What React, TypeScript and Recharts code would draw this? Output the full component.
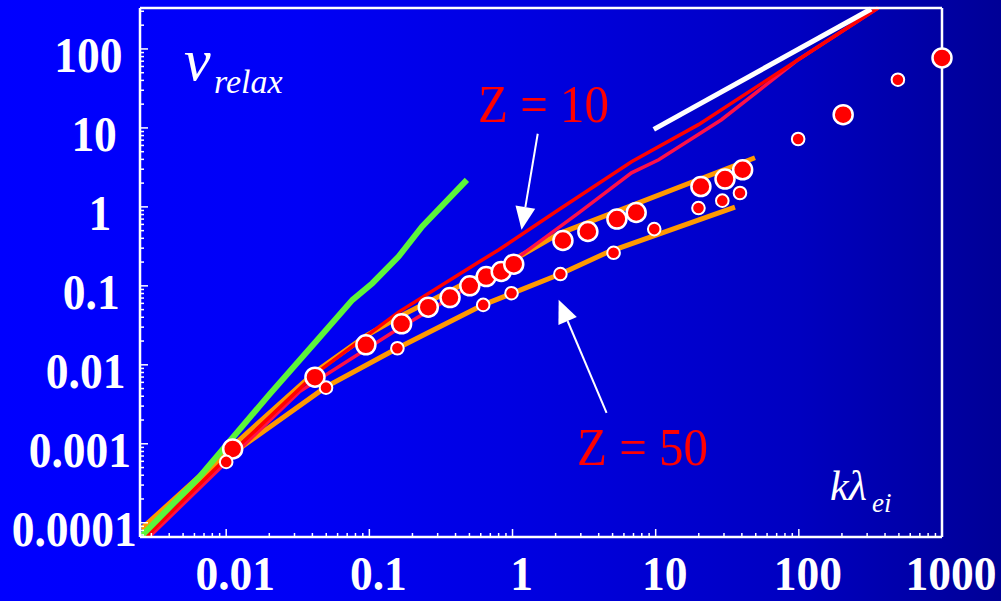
import React from "react";
import { ComposedChart, Line, Scatter, XAxis, YAxis, ReferenceLine } from "recharts";

const SERIF = '"Liberation Serif", "Times New Roman", serif';

// axes
const X_DOMAIN = [0.0025, 1000];
const Y_DOMAIN = [0.000066, 330];
const xMajor = [0.01, 0.1, 1, 10, 100, 1000];
const xLabels = ["0.01", "0.1", "1", "10", "100", "1000"];
const yMajor = [0.0001, 0.001, 0.01, 0.1, 1, 10, 100];
const yLabels = ["0.0001", "0.001", "0.01", "0.1", "1", "10", "100"];
const minorMult = [2, 3, 4, 5, 6, 7, 8, 9];
const xDecades = [0.001, 0.01, 0.1, 1, 10, 100];
const yDecades = [0.00001, 0.0001, 0.001, 0.01, 0.1, 1, 10, 100];

// curves (k*lambda_ei, nu_relax)
const greenCurve = [
  [0.0026, 0.00007], [0.0065, 0.00038], [0.02, 0.0042], [0.0424, 0.0197],
  [0.0762, 0.0665], [0.105, 0.108], [0.16, 0.235], [0.234, 0.565], [0.48, 2.2],
];
const redCurve = [
  [0.00277, 0.000067], [0.0111, 0.00079], [0.0419, 0.00767], [0.161, 0.0468],
  [0.582, 0.201], [0.803, 0.286], [2.1, 0.918], [6.78, 3.73], [19.9, 11],
  [98.9, 73], [357, 330],
];
const crimsonCurve = [
  [0.00292, 0.000067], [0.0111, 0.0007], [0.0324, 0.00454], [0.144, 0.0254],
  [1.107, 0.233], [2.9, 0.841], [6.78, 2.7], [10.5, 3.95], [28.8, 12.7],
  [98.9, 73], [357, 330],
];
const orangeUpper = [
  [0.0026, 0.000086], [0.0111, 0.000937], [0.0419, 0.00813], [0.0946, 0.0232],
  [0.166, 0.0417], [0.503, 0.116], [1.02, 0.214], [2.1, 0.456], [49.4, 4.19],
];
const orangeLower = [
  [0.0026, 0.000081], [0.01, 0.00066], [0.0498, 0.00525], [0.157, 0.0162],
  [0.624, 0.0574], [2.16, 0.141], [4.69, 0.27], [35.8, 0.993],
];
const whiteLine = [[9.7, 9.6], [320, 320]];

// simulation points
const bigDots = [
  [0.0111, 0.00086], [0.0417, 0.00697], [0.0946, 0.0179], [0.168, 0.033],
  [0.258, 0.0537], [0.366, 0.0711], [0.503, 0.1], [0.655, 0.131], [0.834, 0.152],
  [1.02, 0.188], [2.25, 0.375], [3.36, 0.488], [5.36, 0.7], [7.31, 0.849],
  [20.7, 1.81], [30.5, 2.25], [40.5, 2.95], [204, 14.7], [1000, 77],
];
const smallDots = [
  [0.01, 0.00059], [0.0498, 0.00514], [0.157, 0.0162], [0.624, 0.0574],
  [0.984, 0.0807], [2.16, 0.141], [5.08, 0.262], [9.77, 0.523], [19.9, 0.966],
  [29.2, 1.2], [38.8, 1.5], [98.9, 7.23], [492, 40.8],
];

// annotation arrows: [tail, tip]
const arrowZ10 = [[1.5, 8.44], [1.156, 0.513]];
const arrowZ50 = [[4.54, 0.00246], [2.1, 0.0665]];

const toPts = (rows: number[][]) => rows.map(([x, y]) => ({ x, y }));

const minorTicks = (decades: number[], lo: number, hi: number) =>
  decades
    .flatMap((d) => minorMult.map((m) => Number((d * m).toPrecision(2))))
    .filter((v) => v > lo && v < hi);

const xAllTicks = [...xMajor, ...minorTicks(xDecades, X_DOMAIN[0], X_DOMAIN[1])];
const yAllTicks = [...yMajor, ...minorTicks(yDecades, Y_DOMAIN[0], Y_DOMAIN[1])];

const TICK_FS = 45.5;
const MAJOR_LEN = 8;
const MINOR_LEN = 4;
const textWidth = (s: string) => {
  let w = 0;
  for (const c of s) w += c === "." ? 0.25 : 0.5;
  return w * TICK_FS;
};

const BottomTick = (props: any) => {
  const { x, y, payload } = props;
  const i = xMajor.indexOf(payload.value);
  const len = i >= 0 ? MAJOR_LEN : MINOR_LEN;
  return (
    <g>
      <line x1={x} y1={y} x2={x} y2={y - len} stroke="#fff" strokeWidth={1.5} />
      {i >= 0 && (
        <text
          transform={`translate(${x + 9},${y + 53}) scale(1,1.08)`}
          textAnchor="middle"
          fill="#fff"
          fontSize={TICK_FS}
          fontWeight="bold"
          fontFamily={SERIF}
        >
          {xLabels[i]}
        </text>
      )}
    </g>
  );
};

const TopTick = (props: any) => {
  const { x, y, payload } = props;
  const len = xMajor.includes(payload.value) ? MAJOR_LEN : MINOR_LEN;
  return <line x1={x} y1={y} x2={x} y2={y + len} stroke="#fff" strokeWidth={1.5} />;
};

const LeftTick = (props: any) => {
  const { x, y, payload } = props;
  const i = yMajor.indexOf(payload.value);
  const len = i >= 0 ? MAJOR_LEN : MINOR_LEN;
  const s = i >= 0 ? yLabels[i] : "";
  const left = x - 34.5 - 0.75 * textWidth(s);
  return (
    <g>
      <line x1={x} y1={y} x2={x + len} y2={y} stroke="#fff" strokeWidth={1.5} />
      {i >= 0 && (
        <text
          transform={`translate(${left},${y + 23}) scale(1,1.1)`}
          fill="#fff"
          fontSize={TICK_FS}
          fontWeight="bold"
          fontFamily={SERIF}
        >
          {s}
        </text>
      )}
    </g>
  );
};

const RightTick = (props: any) => {
  const { x, y, payload } = props;
  const len = yMajor.includes(payload.value) ? MAJOR_LEN : MINOR_LEN;
  return <line x1={x} y1={y} x2={x - len} y2={y} stroke="#fff" strokeWidth={1.5} />;
};

const Arrow = (props: any) => {
  const { x1, y1, x2, y2 } = props;
  const dx = x2 - x1;
  const dy = y2 - y1;
  const len = Math.sqrt(dx * dx + dy * dy) || 1;
  const ux = dx / len;
  const uy = dy / len;
  const hl = 23;
  const hw = 10;
  const bx = x2 - ux * hl;
  const by = y2 - uy * hl;
  return (
    <g>
      <line x1={x1} y1={y1} x2={bx} y2={by} stroke="#fff" strokeWidth={2} />
      <polygon
        points={`${x2},${y2} ${bx - uy * hw},${by + ux * hw} ${bx + uy * hw},${by - ux * hw}`}
        fill="#fff"
      />
    </g>
  );
};

const BigDot = (p: any) => (
  <circle cx={p.cx} cy={p.cy} r={9.5} fill="#ff0000" stroke="#ffffff" strokeWidth={2.5} />
);
const SmallDot = (p: any) => (
  <circle cx={p.cx} cy={p.cy} r={6.3} fill="#ff0000" stroke="#ffffff" strokeWidth={2} />
);

const frameLine = { stroke: "#fff", strokeWidth: 2.5 };

export default function App() {
  return (
    <div
      style={{
        position: "absolute",
        left: 0,
        top: 0,
        width: 1001,
        height: 601,
        overflow: "hidden",
        background:
          "linear-gradient(90deg, #0000ff 0%, #0000f6 30%, #0000de 55%, #0000c0 80%, #000096 100%)",
      }}
    >
      <ComposedChart width={1001} height={601} margin={{ top: 0, right: 0, left: 0, bottom: 0 }}>
        <XAxis
          dataKey="x"
          type="number"
          scale="log"
          domain={X_DOMAIN}
          ticks={xAllTicks}
          interval={0}
          height={64}
          tickSize={0}
          tickMargin={0}
          tickLine={false}
          axisLine={frameLine}
          tick={BottomTick}
        />
        <XAxis
          xAxisId="top"
          orientation="top"
          type="number"
          scale="log"
          domain={X_DOMAIN}
          ticks={xAllTicks}
          interval={0}
          height={8}
          tickSize={0}
          tickMargin={0}
          tickLine={false}
          axisLine={frameLine}
          tick={TopTick}
        />
        <YAxis
          dataKey="y"
          type="number"
          scale="log"
          domain={Y_DOMAIN}
          ticks={yAllTicks}
          interval={0}
          width={140}
          tickSize={0}
          tickMargin={0}
          tickLine={false}
          axisLine={frameLine}
          tick={LeftTick}
        />
        <YAxis
          yAxisId="right"
          orientation="right"
          type="number"
          scale="log"
          domain={Y_DOMAIN}
          ticks={yAllTicks}
          interval={0}
          width={59}
          tickSize={0}
          tickMargin={0}
          tickLine={false}
          axisLine={frameLine}
          tick={RightTick}
        />

        <Line data={toPts(orangeLower)} dataKey="y" type="linear" stroke="#ff9900" strokeWidth={5} dot={false} activeDot={false} isAnimationActive={false} />
        <Line data={toPts(orangeUpper)} dataKey="y" type="linear" stroke="#ff9900" strokeWidth={5} dot={false} activeDot={false} isAnimationActive={false} />
        <Line data={toPts(crimsonCurve)} dataKey="y" type="linear" stroke="#ff1048" strokeWidth={3.5} dot={false} activeDot={false} isAnimationActive={false} />
        <Line data={toPts(redCurve)} dataKey="y" type="linear" stroke="#ff0000" strokeWidth={3.5} dot={false} activeDot={false} isAnimationActive={false} />
        <Line data={toPts(greenCurve)} dataKey="y" type="linear" stroke="#5cf53a" strokeWidth={6} dot={false} activeDot={false} isAnimationActive={false} />
        <Line data={toPts(whiteLine)} dataKey="y" type="linear" stroke="#ffffff" strokeWidth={5} dot={false} activeDot={false} isAnimationActive={false} />

        <Scatter data={toPts(bigDots)} dataKey="y" shape={BigDot} isAnimationActive={false} />
        <Scatter data={toPts(smallDots)} dataKey="y" shape={SmallDot} isAnimationActive={false} />

        <ReferenceLine
          segment={[
            { x: arrowZ10[0][0], y: arrowZ10[0][1] },
            { x: arrowZ10[1][0], y: arrowZ10[1][1] },
          ]}
          shape={Arrow}
        />
        <ReferenceLine
          segment={[
            { x: arrowZ50[0][0], y: arrowZ50[0][1] },
            { x: arrowZ50[1][0], y: arrowZ50[1][1] },
          ]}
          shape={Arrow}
        />
      </ComposedChart>

      <svg
        width={1001}
        height={601}
        style={{ position: "absolute", left: 0, top: 0, pointerEvents: "none" }}
        fontFamily={SERIF}
      >
        <text x={184} y={80} fill="#fff" fontStyle="italic" fontSize={60}>ν</text>
        <text x={214} y={93} fill="#fff" fontStyle="italic" fontSize={34}>relax</text>
        <text transform="translate(478,122) scale(1,1.08)" fill="#ff0000" fontSize={49}>Z = 10</text>
        <text transform="translate(577,465) scale(1,1.08)" fill="#ff0000" fontSize={49}>Z = 50</text>
        <text x={830} y={500} fill="#fff" fontStyle="italic" fontSize={42}>kλ</text>
        <text x={872} y={512} fill="#fff" fontStyle="italic" fontSize={27}>ei</text>
      </svg>
    </div>
  );
}
